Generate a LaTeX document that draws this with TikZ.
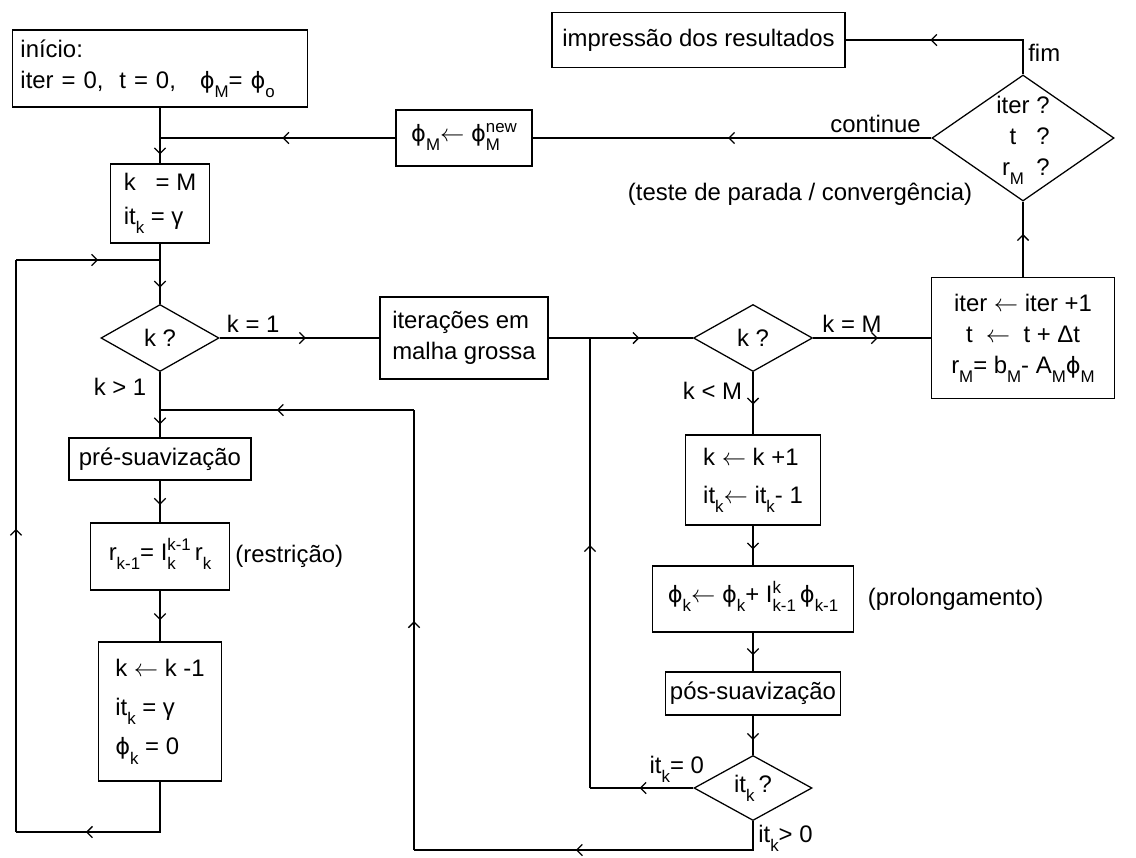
\documentclass[tikz,border=0pt]{standalone}
\usepackage{fontspec}
\setmainfont{Liberation Sans}
\newfontfamily\dvfont{DejaVu Sans}
\usetikzlibrary{shapes.geometric,arrows.meta,decorations.markings}

% lowered index, both indices stacked, arrow and phi
\newcommand{\lo}[1]{\raisebox{-6.5pt}{\fontsize{12}{12}\selectfont #1}}
\newcommand{\stk}[2]{\raisebox{-6.5pt}{\fontsize{12}{12}\selectfont\begin{tabular}[b]{@{}l@{}}#1\\[1pt]#2\end{tabular}}}
\newcommand{\lar}{$\leftarrow$}
\newcommand{\ph}{{\dvfont\fontsize{16}{16}\selectfont ϕ}}

\begin{document}
\begin{tikzpicture}[x=0.025cm, y=-0.025cm, line width=0.9pt,
    font=\fontsize{17}{22}\selectfont,
    box/.style={draw, rectangle, inner sep=0pt},
    decision/.style={draw, diamond, inner sep=0pt},
    flowtip/.style={postaction={decorate}, decoration={markings,
        mark=at position #1 with {\arrow{Straight Barb[length=4pt,width=8pt]}}}}]
  \useasboundingbox (0,0) rectangle (1136,857);

  % Define the boxes of the left column
  \node[box, minimum width=7.375cm, minimum height=1.925cm, text width=6.975cm, align=left] (start) at (160,68.5) {início:\\iter = 0,\ \ t = 0,\ \ \ \ph\lo{M}= \ph\lo{o}};
  \node[box, minimum width=2.475cm, minimum height=1.975cm, align=left] (kM) at (160,203.5) {k\ \ \ = M\\[2pt]it\lo{k} = γ};
  \node[decision, minimum width=2.95cm, minimum height=1.675cm, label=center:k ?] (d1) at (160,338) {};
  \node[box, minimum width=4.55cm, minimum height=1.05cm] (pre) at (160,459) {pré-suavização};
  \node[box, minimum width=3.475cm, minimum height=1.675cm] (restr) at (160,556.5) {r\lo{k-1}= I\stk{k-1}{k}\,r\lo{k}};
  \node[box, minimum width=3.075cm, minimum height=3.475cm, align=left] (kdec) at (160,711.5) {k \lar\ k -1\\[6pt]it\lo{k} = γ\\[6pt]\ph\lo{k} = 0};

  % Define the boxes of the middle and right columns
  \node[box, minimum width=4.2cm, minimum height=2.05cm, align=left] (coarse) at (464,338) {iterações em\\malha grossa};
  \node[decision, minimum width=2.975cm, minimum height=1.675cm, label=center:k ?] (d2) at (753,338) {};
  \node[box, minimum width=3.375cm, minimum height=2.25cm, align=left] (kinc) at (753,480) {k \lar\ k +1\\[5pt]it\lo{k}\lar\ it\lo{k}- 1};
  \node[box, minimum width=5.025cm, minimum height=1.65cm] (prol) at (753,599) {\ph\lo{k}\lar\ \ph\lo{k}+ I\stk{k}{k-1}\,\ph\lo{k-1}};
  \node[box, minimum width=4.375cm, minimum height=1.075cm] (pos) at (753,693.5) {pós-suavização};
  \node[decision, minimum width=2.95cm, minimum height=1.625cm, label=center:it\lo{k}\,?] (d3) at (753,788) {};
  \node[box, minimum width=4.575cm, minimum height=3.025cm, align=center] (upd) at (1023,338) {iter \lar\ iter +1\\t\ \ \lar\ \ t + Δt\\r\lo{M}= b\lo{M}- A\lo{M}\ph\lo{M}};
  \node[decision, minimum width=4.55cm, minimum height=3.15cm,
    label={center:\begin{tabular}{@{}c@{\ }l@{}}iter & ?\\ t & ?\\ r\lo{M} & ?\end{tabular}}] (d4) at (1023,138) {};
  \node[box, minimum width=7.325cm, minimum height=1.375cm] (out) at (698.5,40) {impressão dos resultados};
  \node[box, minimum width=3.4cm, minimum height=1.4cm] (phinew) at (464,138) {\ph\lo{M}\lar\ \ph\stk{new}{M}};

  % Notes beside the boxes
  \node[right] (nrestr) at (restr.east) {(restrição)};
  \node[right=6pt] (nprol) at (prol.east) {(prolongamento)};
  \node (ntest) at (800,194) {(teste de parada / convergência)};

  % Junctions of the connectors
  \coordinate (j1) at (160,138);
  \coordinate (j2) at (160,260);
  \coordinate (j3) at (160,410);
  \coordinate (j4) at (590,338);
  \coordinate (j5) at (590,788);
  \coordinate (j6) at (414,850);
  \coordinate (j7) at (414,410);
  \coordinate (lb) at (16,832);
  \coordinate (lt) at (16,260);

  % Main path
  \draw[flowtip=0.84] (start) -- (kM);
  \draw[flowtip=0.73] (kM) -- (d1);
  \draw[flowtip=0.54] (d1) -- node[pos=0.21, above] {k = 1} (coarse);
  \draw[flowtip=0.8] (d1) -- node[pos=0.22, left, xshift=-6pt] {k > 1} (pre);
  \draw[flowtip=0.58] (pre) -- (restr);
  \draw[flowtip=0.58] (restr) -- (kdec);
  \draw[flowtip=0.64] (kdec.south) |- (lb);
  \draw[flowtip=0.53] (lb) -- (lt);
  \draw[flowtip=0.57] (lt) -- (j2);
  \draw[flowtip=0.63] (coarse) -- (d2);
  \draw[flowtip=0.55] (d2) -- node[pos=0.33, above] {k = M} (upd);
  \draw[flowtip=0.52] (d2) -- node[pos=0.3, left, xshift=-4pt] {k < M} (kinc);
  \draw[flowtip=0.6] (kinc) -- (prol);
  \draw[flowtip=0.58] (prol) -- (pos);
  \draw[flowtip=0.62] (pos) -- (d3);

  % Loops back from it_k ?
  \draw[flowtip=0.52] (d3) -- node[pos=0.16, above] {it\lo{k}= 0} (j5);
  \draw[flowtip=0.54] (j5) -- (j4);
  \draw[flowtip=0.56] (d3.south) |- node[pos=0.3, right] {it\lo{k}> 0} (j6);
  \draw[flowtip=0.52] (j6) -- (j7);
  \draw[flowtip=0.54] (j7) -- (j3);

  % Test of convergence
  \draw[flowtip=0.57] (upd) -- (d4);
  \draw[flowtip=0.51] (d4) -- node[pos=0.14, above] {continue} (phinew);
  \draw[flowtip=0.48] (phinew) -- (j1);
  \draw[flowtip=0.60] (d4.north) |- node[pos=0.31, right] {fim} (out.east);
\end{tikzpicture}
\end{document}
